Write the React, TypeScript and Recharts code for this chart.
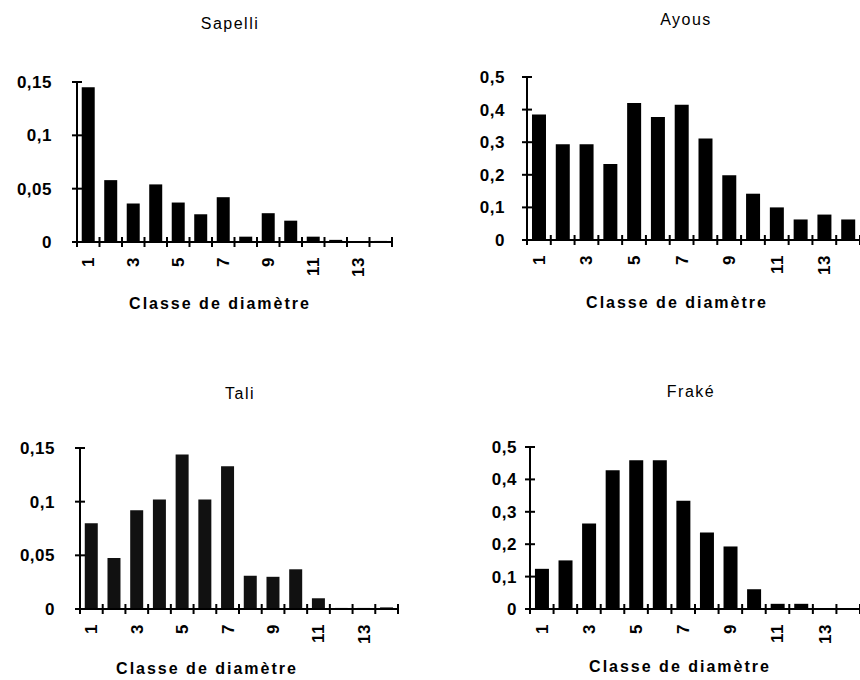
import React from 'react'
import { BarChart, Bar, XAxis, YAxis } from 'recharts'

const classes = ['1', '2', '3', '4', '5', '6', '7', '8', '9', '10', '11', '12', '13', '14']
const shownLabels = ['1', '3', '5', '7', '9', '11', '13']

const sapelli = [0.145, 0.058, 0.036, 0.054, 0.037, 0.026, 0.042, 0.005, 0.027, 0.02, 0.005, 0.002, 0, 0.001]
const ayous = [0.385, 0.294, 0.294, 0.233, 0.42, 0.377, 0.415, 0.311, 0.199, 0.142, 0.1, 0.063, 0.078, 0.063]
const tali = [0.08, 0.0475, 0.092, 0.102, 0.144, 0.102, 0.133, 0.031, 0.03, 0.037, 0.01, 0.001, 0.001, 0.0015]
const frake = [0.124, 0.15, 0.264, 0.428, 0.459, 0.459, 0.334, 0.236, 0.193, 0.061, 0.016, 0.016, 0.003, 0.003]

const ticksSmall = [0, 0.05, 0.1, 0.15]
const ticksLarge = [0, 0.1, 0.2, 0.3, 0.4, 0.5]

const FONT = "'Liberation Sans', Arial, sans-serif"
const AXIS_TITLE = 'Classe de diamètre'

type PanelProps = {
  title: string
  values: number[]
  ticks: number[]
  left: number
  top: number
  width: number
  height: number
  yw: number
  mr: number
  gap: number
  titlePos: [number, number]
  axisTitlePos: [number, number]
  fill?: string
}

const fmt = (v: number) => String(v).replace('.', ',')

function YTick(props: any) {
  const x = Number(props.x)
  const y = Number(props.y)
  const ax = x + props.gap
  return <g>
    <path d={`M${ax - 5},${y}H${ax + 5}`} stroke="#000" strokeWidth={2} fill="none" />
    <text x={x} y={y} dy="0.35em" textAnchor="end" fontFamily={FONT} fontWeight="bold" fontSize={17} letterSpacing={0.5} fill="#000">
      {fmt(props.payload.value)}
    </text>
  </g>
}

function XTick(props: any) {
  const x = Number(props.x)
  const y = Number(props.y)
  const { payload, index, band } = props
  const axisY = y - 15
  const bx = x - band / 2
  let d = `M${bx},${axisY - 5}V${axisY + 5}`
  if (index === classes.length - 1) d += `M${bx + band},${axisY - 5}V${axisY + 5}`
  return <g>
    <path d={d} stroke="#000" strokeWidth={2} fill="none" />
    {shownLabels.includes(payload.value) &&
      <text x={x} y={y} dy="0.35em" textAnchor="end" transform={`rotate(-90 ${x} ${y})`}
        fontFamily={FONT} fontWeight="bold" fontSize={17} letterSpacing={0.5} fill="#000">{payload.value}</text>}
  </g>
}

function Panel(p: PanelProps) {
  const data = classes.map((c, i) => ({ cls: c, v: p.values[i] }))
  const band = (p.width - p.yw - p.mr) / classes.length
  return <>
    <div style={{ position: 'absolute', left: p.titlePos[0], top: p.titlePos[1], transform: 'translate(-50%,-50%)', fontFamily: FONT, fontSize: 16, letterSpacing: 1.5, lineHeight: 1, whiteSpace: 'nowrap' }}>{p.title}</div>
    <div style={{ position: 'absolute', left: p.axisTitlePos[0], top: p.axisTitlePos[1], transform: 'translate(-50%,-50%)', fontFamily: FONT, fontSize: 16, fontWeight: 'bold', letterSpacing: 2, lineHeight: 1, whiteSpace: 'nowrap' }}>{AXIS_TITLE}</div>
    <div style={{ position: 'absolute', left: p.left, top: p.top }}>
      <BarChart width={p.width} height={p.height} data={data} margin={{ top: 22, right: p.mr, bottom: 0, left: 0 }} barCategoryGap="21%">
        <XAxis dataKey="cls" interval={0} height={40} tickLine={false} tickSize={4} tickMargin={11}
          axisLine={{ stroke: '#000', strokeWidth: 2 }} tick={(t: any) => <XTick {...t} band={band} />} />
        <YAxis width={p.yw} domain={[p.ticks[0], p.ticks[p.ticks.length - 1]]} ticks={p.ticks} interval={0}
          tickLine={false} tickSize={4} tickMargin={p.gap - 4} allowDataOverflow
          axisLine={{ stroke: '#000', strokeWidth: 2 }} tick={(t: any) => <YTick {...t} gap={p.gap} />} />
        <Bar dataKey="v" fill={p.fill ?? '#000'} isAnimationActive={false} />
      </BarChart>
    </div>
  </>
}

export default function App() {
  return <div style={{ position: 'absolute', left: 0, top: 0, width: 860, height: 680, background: '#fff', overflow: 'hidden' }}>
    <Panel title="Sapelli" values={sapelli} ticks={ticksSmall} left={0} top={60} width={400} height={222}
      yw={77} mr={8} gap={25} titlePos={[230, 24]} axisTitlePos={[220, 304]} />
    <Panel title="Ayous" values={ayous} ticks={ticksLarge} left={430} top={55} width={430} height={225}
      yw={97} mr={0} gap={22} titlePos={[686, 20]} axisTitlePos={[677, 303]} />
    <Panel title="Tali" values={tali} ticks={ticksSmall} left={0} top={426} width={406} height={223}
      yw={80} mr={8} gap={25} titlePos={[240, 394]} axisTitlePos={[207, 669]} fill="#111" />
    <Panel title="Fraké" values={frake} ticks={ticksLarge} left={430} top={425} width={430} height={224}
      yw={100} mr={0} gap={13} titlePos={[691, 392]} axisTitlePos={[680, 667]} />
  </div>
}
